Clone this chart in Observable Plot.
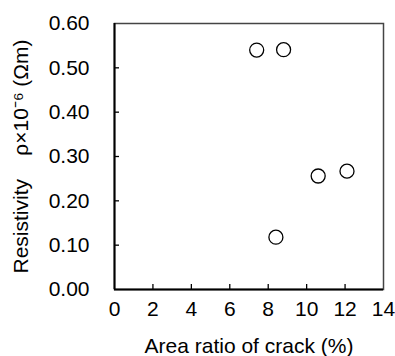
<!DOCTYPE html>
<html>
<head>
<meta charset="utf-8">
<script src="https://cdn.jsdelivr.net/npm/d3@7"></script>
<script src="https://cdn.jsdelivr.net/npm/@observablehq/plot@0.6"></script>
<style>
  html, body { margin: 0; padding: 0; background: #fff; }
  svg { display: block; }
</style>
</head>
<body>
<div id="chart"></div>
<script>
const areaRatio = [7.4, 8.8, 8.4, 10.6, 12.1];
const resistivity = [0.540, 0.541, 0.118, 0.256, 0.267];
const xTicks = [0, 2, 4, 6, 8, 10, 12, 14];
const yTicks = [0, 0.1, 0.2, 0.3, 0.4, 0.5, 0.6];
const xInnerTicks = [2, 4, 6, 8, 10, 12];
const yInnerTicks = [0.1, 0.2, 0.3, 0.4, 0.5];
const xLabel = "Area ratio of crack (%)";
const yLabel = "Resistivity\u00a0\u00a0\u00a0\u00a0ρ×10⁻⁶ (Ωm)";

const points = areaRatio.map((x, i) => ({x, y: resistivity[i]}));

const W = 395, H = 356, mL = 114, mR = 12, mT = 23, mB = 67;
const tickLen = 5;
const plotW = W - mL - mR, plotH = H - mT - mB;

const chart = Plot.plot({
  width: W,
  height: H,
  marginLeft: mL,
  marginRight: mR,
  marginTop: mT,
  marginBottom: mB,
  style: {fontFamily: "'Liberation Sans', Arial, sans-serif", fontSize: "21px", color: "#000", background: "#fff"},
  x: {domain: [0, 14]},
  y: {domain: [0, 0.6]},
  marks: [
    Plot.frame({stroke: "#444", strokeWidth: 1.5}),
    Plot.axisX(xTicks, {tickSize: 0, tickPadding: 12, fontSize: 21, label: xLabel, labelAnchor: "center", labelArrow: "none", labelOffset: 63}),
    Plot.axisY(yTicks, {tickSize: 0, tickPadding: 25, fontSize: 21, tickFormat: d3.format(".2f"), label: yLabel, labelAnchor: "center", labelArrow: "none", labelOffset: 101}),
    Plot.ruleX(xInnerTicks, {stroke: "#000", strokeWidth: 1.3, insetTop: plotH - tickLen}),
    Plot.ruleY(yInnerTicks, {stroke: "#000", strokeWidth: 1.3, insetRight: plotW - tickLen}),
    Plot.ruleX([0], {stroke: "#000", strokeWidth: 2}),
    Plot.ruleY([0], {stroke: "#000", strokeWidth: 2}),
    Plot.dot(points, {x: "x", y: "y", r: 7, stroke: "#000", fill: "#fff", strokeWidth: 1.3})
  ]
});
document.getElementById("chart").append(chart);
</script>
</body>
</html>
